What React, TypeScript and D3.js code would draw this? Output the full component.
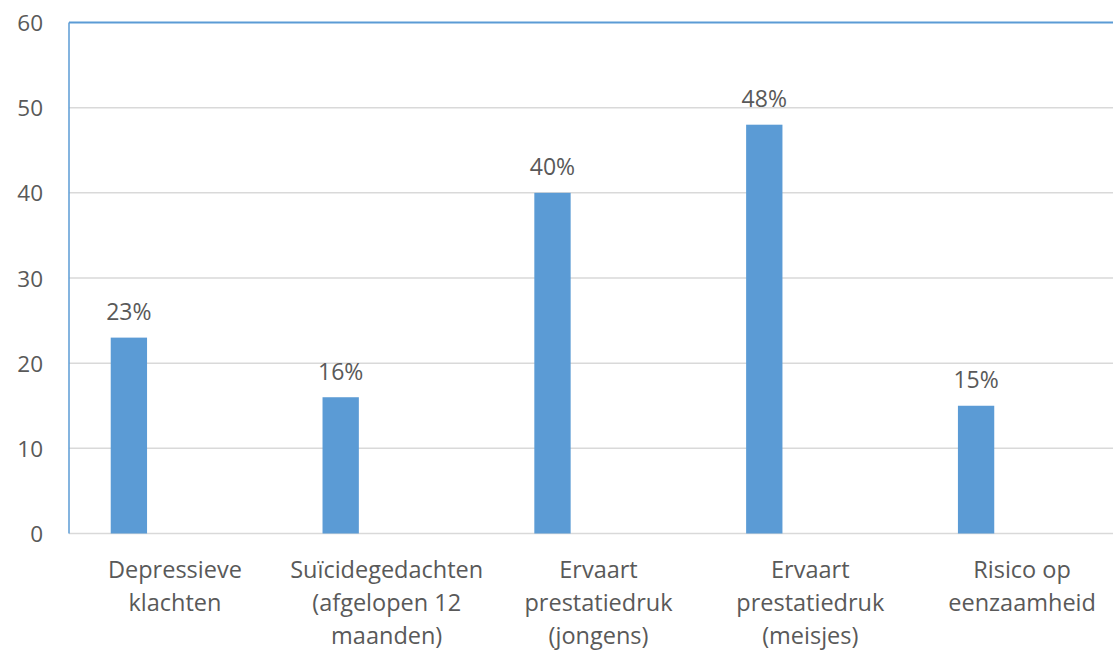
import React from "react";
import * as d3 from "d3";

const categories: string[][] = [
  ["Depressieve", "klachten"],
  ["Suïcidegedachten", "(afgelopen 12", "maanden)"],
  ["Ervaart", "prestatiedruk", "(jongens)"],
  ["Ervaart", "prestatiedruk", "(meisjes)"],
  ["Risico op", "eenzaamheid"],
];
const values: number[] = [23, 16, 40, 48, 15];
const valueLabels: string[] = ["23%", "16%", "40%", "48%", "15%"];
const yTicks: number[] = [0, 10, 20, 30, 40, 50, 60];

const W = 1113;
const H = 651;
const plotLeft = 69;
const plotTop = 22.5;
const plotBottom = 533.5;
const plotRight = 1128;
const FONT = "'Open Sans', 'Noto Sans', sans-serif";
const TEXT = "#595959";
const BAR = "#5B9BD5";

export default function App() {
  const keys = categories.map((c) => c.join(" "));
  const x = d3.scaleBand<string>().domain(keys).range([plotLeft, plotRight]).padding(0);
  const y = d3.scaleLinear().domain([0, 60]).range([plotBottom, plotTop]);
  const step = x.step();
  const barOffset = step * 0.197;
  const barW = step * 0.1715;

  return (
    <div style={{ position: "fixed", left: 0, top: 0, width: W, height: H, background: "#fff" }}>
      <svg width={W} height={H} style={{ display: "block" }}>
        <rect x={0} y={0} width={W} height={H} fill="#fff" />
        {yTicks.map((t) => (
          <g key={t}>
            {t > 0 && t < 60 && (
              <line x1={plotLeft} x2={W} y1={y(t)} y2={y(t)} stroke="#D9D9D9" strokeWidth={1.5} />
            )}
            <text
              x={43}
              y={y(t)}
              textAnchor="end"
              dominantBaseline="central"
              fontFamily={FONT}
              fontSize={22.5}
              fill={TEXT}
            >
              {t}
            </text>
          </g>
        ))}
        <line x1={plotLeft} x2={W} y1={y(0)} y2={y(0)} stroke="#D9D9D9" strokeWidth={1.5} />
        {keys.map((k, i) => {
          const bx = (x(k) as number) + barOffset;
          const by = y(values[i]);
          return (
            <g key={k}>
              <rect x={bx} y={by} width={barW} height={y(0) - by} fill={BAR} />
              <text
                x={bx + barW / 2}
                y={by - 17.5}
                textAnchor="middle"
                fontFamily={FONT}
                fontSize={23}
                fill={TEXT}
              >
                {valueLabels[i]}
              </text>
              {categories[i].map((line, j) => (
                <text
                  key={j}
                  x={(x(k) as number) + step / 2}
                  y={578 + j * 32.8}
                  textAnchor="middle"
                  fontFamily={FONT}
                  fontSize={23.5}
                  fill={TEXT}
                >
                  {line}
                </text>
              ))}
            </g>
          );
        })}
        <line x1={plotLeft} x2={plotLeft} y1={plotTop} y2={plotBottom} stroke={BAR} strokeWidth={1.5} />
        <line x1={plotLeft} x2={W} y1={plotTop} y2={plotTop} stroke={BAR} strokeWidth={2} />
      </svg>
    </div>
  );
}
